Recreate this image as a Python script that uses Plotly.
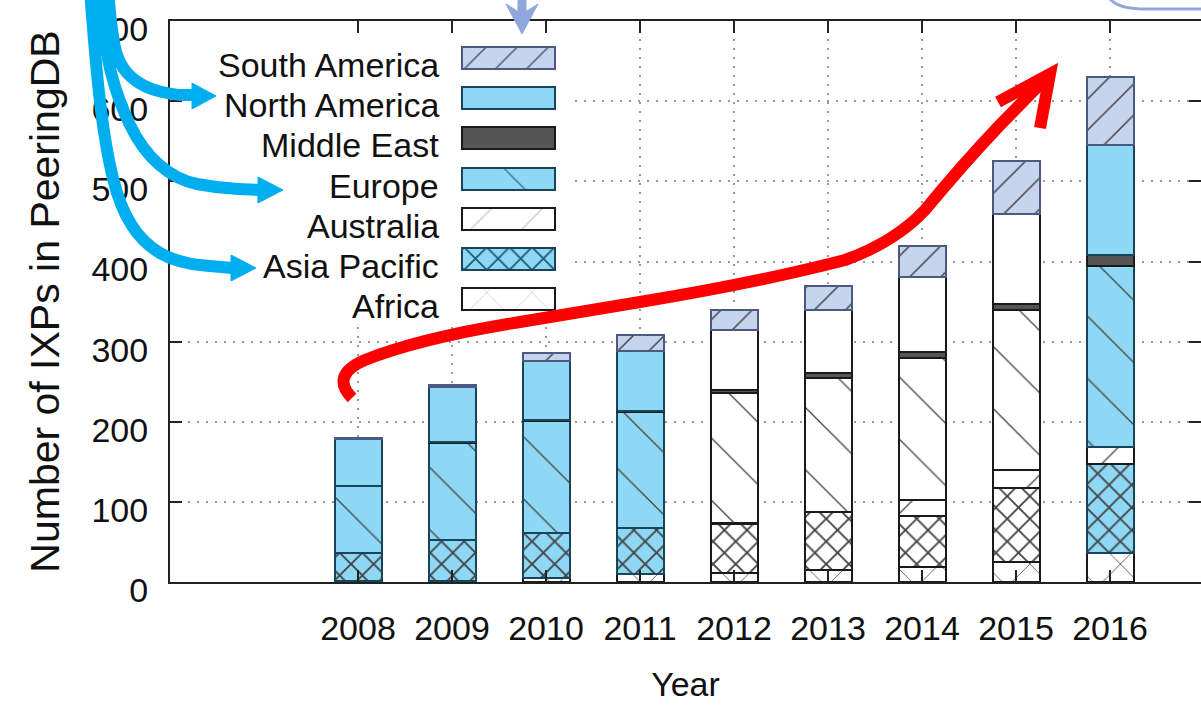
import plotly.graph_objects as go

# IXPs listed in PeeringDB per region and year
years = [2008, 2009, 2010, 2011, 2012, 2013, 2014, 2015, 2016]
africa = [1, 1, 5, 10, 11, 15, 19, 25, 36]
asia_pacific = [35, 51, 56, 58, 62, 72, 63, 92, 111]
australia = [0, 0, 0, 0, 1, 1, 20, 23, 22]
europe = [84, 122, 140, 144, 162, 167, 178, 199, 226]
middle_east = [0, 1, 1, 2, 4, 6, 7, 8, 13]
north_america = [58, 69, 74, 74, 74, 78, 94, 113, 137]
south_america = [2, 2, 10, 20, 26, 31, 38, 65, 86]
highlight_years = [2008, 2009, 2010, 2011, 2016]

FONT = "Liberation Sans, Arial, Helvetica, sans-serif"
FS = 34
W, H = 1201, 708
ML, MR, MT, MB = 170, 0, 21, 126
PW, PH = W - ML - MR, H - MT - MB

SKY = "#8ed8f5"
SKY_EDGE = "#17465a"
SA_FILL = "#c6d4ee"
SA_LINE = "#4a5b85"
ME_FILL = "#555555"
EDGE = "#1a1a1a"

hl = [y in highlight_years for y in years]


def pick(on, off):
    return [on if h else off for h in hl]


# region -> values, fill, hatch shape, hatch colour, hatch size, solidity, outline
regions = [
    ("Africa", africa, ["white"] * 9, "x", ["#d0d0d0"] * 9, 32, 0.05, [EDGE] * 9),
    ("Asia Pacific", asia_pacific, pick(SKY, "white"), "x", pick("#1f5d75", "#222222"), 16, 0.22,
     pick(SKY_EDGE, EDGE)),
    ("Australia", australia, ["white"] * 9, "/", ["#c8c8c8"] * 9, 36, 0.035, [EDGE] * 9),
    ("Europe", europe, pick(SKY, "white"), "\\", pick("#3f7186", "#6e6e6e"), 44, 0.03,
     pick(SKY_EDGE, EDGE)),
    ("Middle East", middle_east, [ME_FILL] * 9, "", [ME_FILL] * 9, 10, 0.1, [EDGE] * 9),
    ("North America", north_america, pick(SKY, "white"), "", ["white"] * 9, 10, 0.1,
     pick(SKY_EDGE, EDGE)),
    ("South America", south_america, [SA_FILL] * 9, "/", [SA_LINE] * 9, 22, 0.07, ["#4a5a80"] * 9),
]

fig = go.Figure()
for name, vals, fill, shape, fg, size, sol, edge in regions:
    fig.add_trace(go.Bar(
        x=years, y=vals, name=name, width=0.5, showlegend=False,
        marker=dict(
            color=fill,
            line=dict(color=edge, width=2),
            pattern=dict(shape=shape, fgcolor=fg, fgopacity=1, size=size, solidity=sol,
                         fillmode="overlay"),
        ),
    ))

# Key: a white panel and swatches drawn as bars on a pixel-scaled overlay axis
fig.add_trace(go.Bar(
    x=[398], y=[174], base=[174], width=296, orientation="h", showlegend=False,
    xaxis="x2", yaxis="y2", hoverinfo="skip",
    marker=dict(color="white", line=dict(width=0)),
))
key_rows = [58, 98, 138, 179, 219, 259, 299]
key_order = ["South America", "North America", "Middle East", "Europe", "Australia",
             "Asia Pacific", "Africa"]
key_style = {
    "South America": (SA_FILL, "/", SA_LINE, 22, 0.07, "#4a5a80"),
    "North America": (SKY, "", SKY, 10, 0.1, SKY_EDGE),
    "Middle East": (ME_FILL, "", ME_FILL, 10, 0.1, EDGE),
    "Europe": (SKY, "\\", "#3f7186", 44, 0.03, SKY_EDGE),
    "Australia": ("white", "/", "#c8c8c8", 36, 0.035, EDGE),
    "Asia Pacific": (SKY, "x", "#1f5d75", 16, 0.22, SKY_EDGE),
    "Africa": ("white", "x", "#d0d0d0", 32, 0.05, EDGE),
}
for name, yc in zip(key_order, key_rows):
    fc, sh, fg, sz, so, ed = key_style[name]
    fig.add_trace(go.Bar(
        x=[93], y=[yc], base=[462], width=22, orientation="h", showlegend=False,
        xaxis="x2", yaxis="y2", hoverinfo="skip",
        marker=dict(color=fc, line=dict(color=ed, width=2),
                    pattern=dict(shape=sh, fgcolor=fg, fgopacity=1, size=sz, solidity=so,
                                 fillmode="overlay")),
    ))
    fig.add_annotation(x=441, y=yc + 7, xref="x2", yref="y2", text=name, showarrow=False,
                       xanchor="right", yanchor="middle",
                       font=dict(family=FONT, size=FS, color="#111"))


def px(x, y):
    return f"{(x - ML) / PW:.5f},{(MT + PH - y) / PH:.5f}"


def path(cmds):
    out = []
    for c in cmds:
        if isinstance(c, str):
            out.append(c)
        else:
            out.append(px(*c))
    return " ".join(out)


shapes = []

# red trend arrow
red = "#ff0000"
shapes.append(dict(type="path", xref="paper", yref="paper", line=dict(color=red, width=12),
                   path=path(["M", (352, 398), "Q", (330, 375), (365, 360), "Q", (420, 338), (520, 322),
                              "L", (640, 302), "Q", (760, 282), (845, 260), "Q", (895, 242), (925, 210),
                              "Q", (962, 165), (1000, 125), "L", (1046, 78)])))
shapes.append(dict(type="path", xref="paper", yref="paper", line=dict(color=red, width=12),
                   path=path(["M", (998, 102), "L", (1050, 74), "L", (1040, 128)])))

# cyan pointers into the key
cyan = "#00aeef"
strokes = [
    ([(108, -10), (112, 40), (122, 70), (145, 88), (175, 95), (192, 95)], (192, 96), (216, 96), 13),
    ([(99, -10), (104, 45), (118, 100), (142, 150), (177, 180), (217, 188), (259, 190)],
     (258, 190), (283, 190), 13),
    ([(90, -10), (96, 70), (106, 150), (120, 207), (143, 243), (177, 263), (232, 268)],
     (231, 268), (256, 268), 13),
]
for pts, base, tip, hw in strokes:
    cmd = ["M", pts[0]]
    # smooth the stroke with quadratic segments through midpoints
    for i in range(1, len(pts) - 1):
        mid = ((pts[i][0] + pts[i + 1][0]) / 2, (pts[i][1] + pts[i + 1][1]) / 2)
        cmd += ["Q", pts[i], mid]
    cmd += ["L", pts[-1]]
    shapes.append(dict(type="path", xref="paper", yref="paper",
                       line=dict(color=cyan, width=12), path=path(cmd)))
    shapes.append(dict(type="path", xref="paper", yref="paper", fillcolor=cyan,
                       line=dict(color=cyan, width=1),
                       path=path(["M", (base[0], base[1] - hw), "L", tip, "L", (base[0], base[1] + hw), "Z"])))

# pale blue pointer at the top of the key
pale = "#8fa7dc"
shapes.append(dict(type="path", xref="paper", yref="paper", line=dict(color=pale, width=9),
                   path=path(["M", (522, -5), "L", (522, 18)])))
shapes.append(dict(type="path", xref="paper", yref="paper", fillcolor=pale, line=dict(color=pale, width=1),
                   path=path(["M", (506, 4), "L", (522, 34), "L", (538, 4), "L", (522, 14), "Z"])))
shapes.append(dict(type="path", xref="paper", yref="paper", line=dict(color=pale, width=3),
                   path=path(["M", (1108, -4), "Q", (1115, 9), (1145, 9), "L", (1205, 9)])))

grid = dict(showgrid=True, gridcolor="#9a9a9a", griddash="2px,7px", gridwidth=2)

fig.update_layout(
    width=W, height=H,
    margin=dict(l=ML, r=MR, t=MT, b=MB, autoexpand=False),
    paper_bgcolor="white", plot_bgcolor="white",
    barmode="stack", bargap=0,
    font=dict(family=FONT, size=FS, color="#111"),
    shapes=shapes,
    xaxis=dict(
        range=[2006, 2006 + PW / 94], tickvals=years, ticktext=[str(y) for y in years],
        showline=True, linecolor="#222", linewidth=2, mirror="ticks",
        ticks="inside", ticklen=12, tickwidth=2, tickcolor="#222",
        zeroline=False, ticklabelstandoff=15, tickangle=0, automargin=False,
        tickfont=dict(family=FONT, size=FS, color="#111"),
        title=dict(text="Year", font=dict(family=FONT, size=FS, color="#111"), standoff=26),
        **grid,
    ),
    yaxis=dict(
        range=[0, 700.3], tickvals=list(range(0, 701, 100)),
        showline=True, linecolor="#222", linewidth=2, mirror="ticks",
        ticks="inside", ticklen=12, tickwidth=2, tickcolor="#222",
        zeroline=False, ticklabelstandoff=13, ticklabelshift=8, ticklabeloverflow="allow",
        automargin=False,
        tickfont=dict(family=FONT, size=FS, color="#111"),
        title=dict(text="Number of IXPs in PeeringDB", font=dict(family=FONT, size=41, color="#111"),
                   standoff=19),
        **grid,
    ),
    xaxis2=dict(overlaying="x", anchor="y2", range=[ML, W], visible=False, fixedrange=True),
    yaxis2=dict(overlaying="y", anchor="x2", range=[MT + PH, MT], visible=False, fixedrange=True),
)

fig.write_html("out.html")
